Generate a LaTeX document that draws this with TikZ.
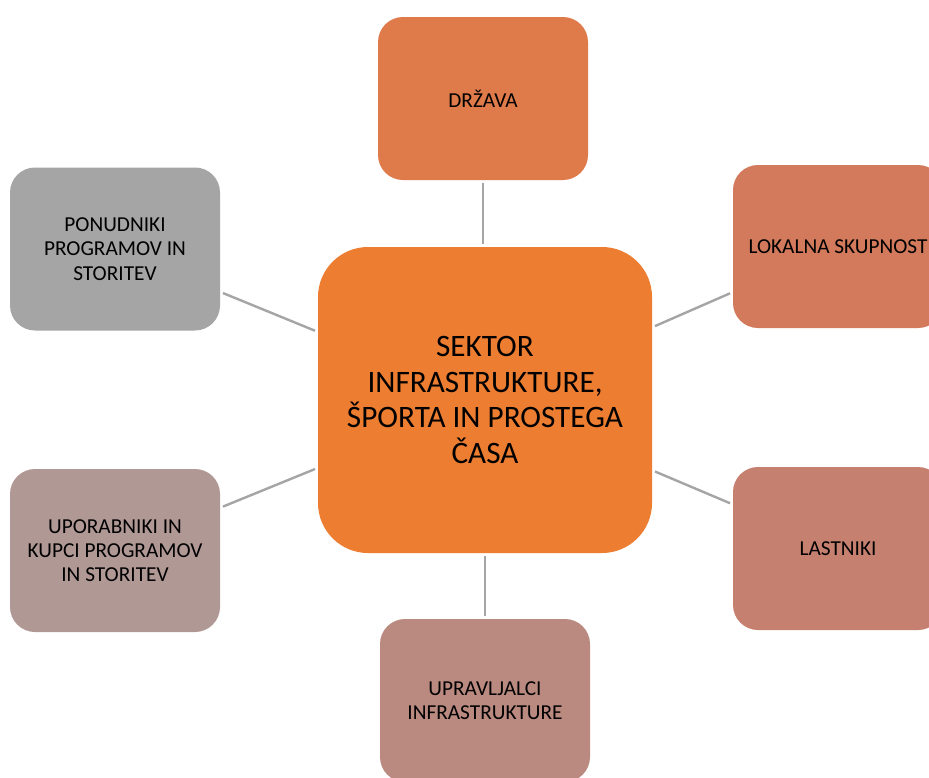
\documentclass[tikz,border=0pt]{standalone}
\usepackage{fontspec}
\setmainfont{Carlito}
\definecolor{cmain}{HTML}{ED7D31}
\definecolor{cdrz}{HTML}{DF7B4A}
\definecolor{clok}{HTML}{D27A5B}
\definecolor{clast}{HTML}{C6806F}
\definecolor{cupr}{HTML}{BA8A80}
\definecolor{cupo}{HTML}{B09895}
\definecolor{cpon}{HTML}{A5A5A5}
\definecolor{clink}{HTML}{A5A5A5}
\begin{document}
\begin{tikzpicture}[x=1pt,y=-1pt,
  outer box/.style={rectangle, rounded corners=25pt, minimum width=210pt, minimum height=163pt,
    inner sep=0pt, align=center, text=black, font=\fontsize{21.3}{24.3}\selectfont},
  main box/.style={rectangle, rounded corners=50pt, fill=cmain, minimum width=334pt, minimum height=306pt,
    inner sep=0pt, align=center, text=black, font=\fontsize{31.2}{35.7}\selectfont},
  link/.style={draw=clink, line width=2.4pt, shorten <=3pt, shorten >=3pt}]
\useasboundingbox (0,0) rectangle (929,777);
\clip (0,0) rectangle (929,777);
\fill[white] (0,0) rectangle (929,777);
\node[main box] (main) at (485,400) {SEKTOR\\INFRASTRUKTURE,\\ŠPORTA IN PROSTEGA\\ČASA};
\node[outer box, fill=cdrz] (drz) at (483,98.5) {DRŽAVA};
\node[outer box, fill=clok] (lok) at (838,246.5) {LOKALNA SKUPNOST};
\node[outer box, fill=clast] (last) at (838,548.5) {LASTNIKI};
\node[outer box, fill=cupr] (upr) at (485,700.5) {UPRAVLJALCI\\INFRASTRUKTURE};
\node[outer box, fill=cupo] (upo) at (115,550.5) {UPORABNIKI IN\\KUPCI PROGRAMOV\\IN STORITEV};
\node[outer box, fill=cpon] (pon) at (115,249) {PONUDNIKI\\PROGRAMOV IN\\STORITEV};
\draw[link] (drz) -- (drz|-main.north);
\draw[link] (upr) -- (upr|-main.south);
\draw[link] (main) -- (lok);
\draw[link] (main) -- (last);
\draw[link] (main) -- (upo);
\draw[link] (main) -- (pon);
\end{tikzpicture}
\end{document}
